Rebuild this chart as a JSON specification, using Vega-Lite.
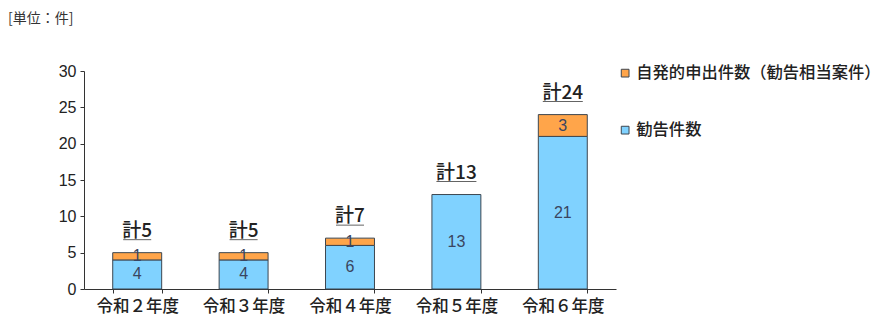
{
  "$schema": "https://vega.github.io/schema/vega-lite/v6.json",
  "autosize": "none",
  "width": 532,
  "height": 218,
  "padding": {"left": 84, "top": 71, "right": 270, "bottom": 40},
  "background": "white",
  "config": {"view": {"stroke": null}, "font": "Noto Sans CJK JP"},
  "title": {"text": "[単位：件]", "anchor": "start", "frame": "group", "dx": -76, "offset": 37, "fontSize": 14, "fontWeight": "normal", "color": "#333", "font": "Noto Sans CJK JP"},
  "data": {"values": [
    {"year": "令和２年度", "type": "勧告件数", "order": 1, "count": 4},
    {"year": "令和２年度", "type": "自発的申出件数（勧告相当案件）", "order": 2, "count": 1},
    {"year": "令和３年度", "type": "勧告件数", "order": 1, "count": 4},
    {"year": "令和３年度", "type": "自発的申出件数（勧告相当案件）", "order": 2, "count": 1},
    {"year": "令和４年度", "type": "勧告件数", "order": 1, "count": 6},
    {"year": "令和４年度", "type": "自発的申出件数（勧告相当案件）", "order": 2, "count": 1},
    {"year": "令和５年度", "type": "勧告件数", "order": 1, "count": 13},
    {"year": "令和５年度", "type": "自発的申出件数（勧告相当案件）", "order": 2, "count": 0},
    {"year": "令和６年度", "type": "勧告件数", "order": 1, "count": 21},
    {"year": "令和６年度", "type": "自発的申出件数（勧告相当案件）", "order": 2, "count": 3}
  ]},
  "encoding": {
    "x": {"field": "year", "type": "nominal", "sort": null,
      "scale": {"paddingInner": 0.54, "paddingOuter": 0.27},
      "axis": {"title": null, "labelAngle": 0, "tickBand": "extent", "domainColor": "#333", "tickColor": "#333", "tickSize": 4, "labelFontSize": 16.5, "labelFontWeight": 500, "labelColor": "#222", "labelPadding": 5, "labelFont": "Noto Sans CJK JP"}}
  },
  "layer": [
    {
      "transform": [
        {"filter": "datum.count > 0"},
        {"stack": "count", "groupby": ["year"], "sort": [{"field": "order"}], "as": ["y0", "y1"]}
      ],
      "layer": [
        {
          "mark": {"type": "bar", "stroke": "#3c4650", "strokeWidth": 1},
          "encoding": {
            "y": {"field": "y0", "type": "quantitative", "scale": {"domain": [0, 30]},
              "axis": {"title": null, "values": [0, 5, 10, 15, 20, 25, 30], "labelOverlap": false, "grid": false, "domainColor": "#333", "tickColor": "#333", "tickSize": 4, "labelFontSize": 16, "labelColor": "#222", "labelPadding": 4, "labelFont": "Liberation Sans"}},
            "y2": {"field": "y1"},
            "color": {"field": "type", "type": "nominal",
              "scale": {"domain": ["自発的申出件数（勧告相当案件）", "勧告件数"], "range": ["#FFA54A", "#80D2FF"]},
              "legend": {"title": null, "orient": "none", "legendX": 533, "legendY": -6, "symbolType": "square", "symbolSize": 60, "symbolStrokeColor": "#3c4650", "symbolStrokeWidth": 1, "labelFontSize": 16.3, "labelFontWeight": 500, "labelColor": "#222", "rowPadding": 40, "labelOffset": 3, "labelLimit": 300, "labelFont": "Noto Sans CJK JP"}}
          }
        },
        {
          "transform": [{"calculate": "(datum.y0 + datum.y1) / 2", "as": "mid"}],
          "mark": {"type": "text", "fontSize": 16, "color": "#3a4560", "font": "Liberation Sans", "baseline": "middle"},
          "encoding": {
            "y": {"field": "mid", "type": "quantitative",
              "axis": {"title": null, "values": [0, 5, 10, 15, 20, 25, 30], "labelOverlap": false, "grid": false, "domainColor": "#333", "tickColor": "#333", "tickSize": 4, "labelFontSize": 16, "labelColor": "#222", "labelPadding": 4, "labelFont": "Liberation Sans"}},
            "text": {"field": "count", "type": "quantitative"}
          }
        }
      ]
    },
    {
      "transform": [
        {"aggregate": [{"op": "sum", "field": "count", "as": "total"}], "groupby": ["year"]},
        {"calculate": "'計' + datum.total", "as": "label"},
        {"calculate": "datum.total < 10 ? 28 : 40", "as": "ulen"}
      ],
      "layer": [
        {
          "mark": {"type": "text", "fontSize": 19, "fontWeight": 500, "color": "#222", "baseline": "alphabetic", "dy": -16, "font": "Noto Sans CJK JP"},
          "encoding": {
            "y": {"field": "total", "type": "quantitative",
              "axis": {"title": null, "values": [0, 5, 10, 15, 20, 25, 30], "labelOverlap": false, "grid": false, "domainColor": "#333", "tickColor": "#333", "tickSize": 4, "labelFontSize": 16, "labelColor": "#222", "labelPadding": 4, "labelFont": "Liberation Sans"}},
            "text": {"field": "label"}
          }
        },
        {
          "mark": {"type": "tick", "orient": "horizontal", "color": "#222", "thickness": 1, "yOffset": -13},
          "encoding": {
            "y": {"field": "total", "type": "quantitative",
              "axis": {"title": null, "values": [0, 5, 10, 15, 20, 25, 30], "labelOverlap": false, "grid": false, "domainColor": "#333", "tickColor": "#333", "tickSize": 4, "labelFontSize": 16, "labelColor": "#222", "labelPadding": 4, "labelFont": "Liberation Sans"}},
            "size": {"field": "ulen", "type": "quantitative", "scale": null, "legend": null}
          }
        }
      ]
    }
  ]
}
